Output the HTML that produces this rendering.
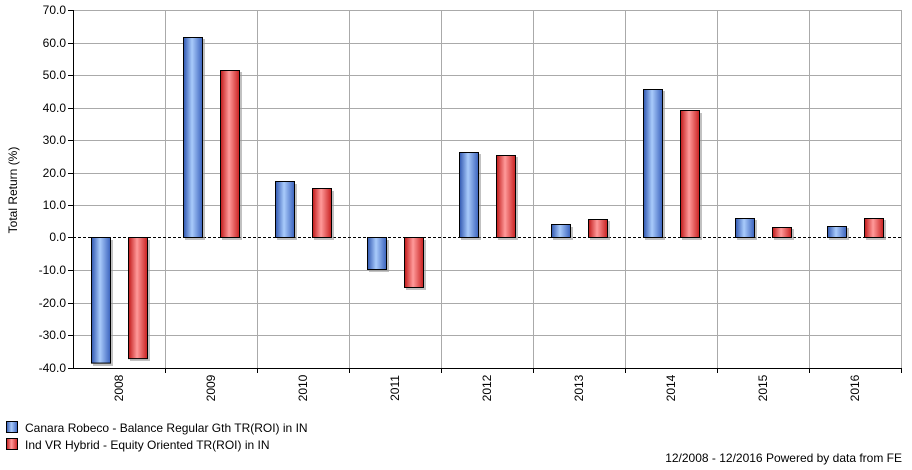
<!DOCTYPE html>
<html><head><meta charset="utf-8"><style>body{margin:0;background:#fff}svg{display:block}text{font-family:"Liberation Sans",Arial,sans-serif;font-size:12px;fill:#000}</style></head><body>
<svg width="912" height="470" viewBox="0 0 912 470" xmlns="http://www.w3.org/2000/svg">
<defs>
<linearGradient id="b" x1="0" x2="1" y1="0" y2="0"><stop offset="0" stop-color="#2f56b0"/><stop offset="0.45" stop-color="#a9cbfb"/><stop offset="1" stop-color="#3a62bd"/></linearGradient>
<linearGradient id="r" x1="0" x2="1" y1="0" y2="0"><stop offset="0" stop-color="#c01818"/><stop offset="0.45" stop-color="#ff9a9a"/><stop offset="1" stop-color="#c82020"/></linearGradient>
</defs>
<g stroke="#aaa" stroke-width="1">
<line x1="73" x2="901" y1="10.5" y2="10.5"/><line x1="73" x2="901" y1="43.5" y2="43.5"/><line x1="73" x2="901" y1="75.5" y2="75.5"/><line x1="73" x2="901" y1="108.5" y2="108.5"/><line x1="73" x2="901" y1="140.5" y2="140.5"/><line x1="73" x2="901" y1="173.5" y2="173.5"/><line x1="73" x2="901" y1="205.5" y2="205.5"/><line x1="73" x2="901" y1="270.5" y2="270.5"/><line x1="73" x2="901" y1="303.5" y2="303.5"/><line x1="73" x2="901" y1="335.5" y2="335.5"/>
<line x1="165.5" x2="165.5" y1="10" y2="368"/><line x1="257.5" x2="257.5" y1="10" y2="368"/><line x1="349.5" x2="349.5" y1="10" y2="368"/><line x1="441.5" x2="441.5" y1="10" y2="368"/><line x1="533.5" x2="533.5" y1="10" y2="368"/><line x1="625.5" x2="625.5" y1="10" y2="368"/><line x1="717.5" x2="717.5" y1="10" y2="368"/><line x1="809.5" x2="809.5" y1="10" y2="368"/><line x1="901.5" x2="901.5" y1="10" y2="368"/>
</g>
<line x1="73" x2="901" y1="237.5" y2="237.5" stroke="#000" stroke-dasharray="3,2"/>
<g stroke="#000" stroke-width="1">
<line x1="73.5" x2="73.5" y1="10" y2="368"/><line x1="73" x2="901" y1="368.5" y2="368.5"/>
</g>
<g stroke="#000">
<line x1="68" x2="73" y1="10.5" y2="10.5"/><line x1="68" x2="73" y1="43.5" y2="43.5"/><line x1="68" x2="73" y1="75.5" y2="75.5"/><line x1="68" x2="73" y1="108.5" y2="108.5"/><line x1="68" x2="73" y1="140.5" y2="140.5"/><line x1="68" x2="73" y1="173.5" y2="173.5"/><line x1="68" x2="73" y1="205.5" y2="205.5"/><line x1="68" x2="73" y1="237.5" y2="237.5"/><line x1="68" x2="73" y1="270.5" y2="270.5"/><line x1="68" x2="73" y1="303.5" y2="303.5"/><line x1="68" x2="73" y1="335.5" y2="335.5"/><line x1="68" x2="73" y1="368.5" y2="368.5"/>
<line x1="165.5" x2="165.5" y1="368" y2="373"/><line x1="257.5" x2="257.5" y1="368" y2="373"/><line x1="349.5" x2="349.5" y1="368" y2="373"/><line x1="441.5" x2="441.5" y1="368" y2="373"/><line x1="533.5" x2="533.5" y1="368" y2="373"/><line x1="625.5" x2="625.5" y1="368" y2="373"/><line x1="717.5" x2="717.5" y1="368" y2="373"/><line x1="809.5" x2="809.5" y1="368" y2="373"/><line x1="901.5" x2="901.5" y1="368" y2="373"/>
</g>
<g text-anchor="end">
<text x="66" y="14">70.0</text><text x="66" y="47">60.0</text><text x="66" y="79">50.0</text><text x="66" y="112">40.0</text><text x="66" y="144">30.0</text><text x="66" y="177">20.0</text><text x="66" y="209">10.0</text><text x="66" y="241">0.0</text><text x="66" y="274">-10.0</text><text x="66" y="307">-20.0</text><text x="66" y="339">-30.0</text><text x="66" y="372">-40.0</text>
</g>
<text transform="translate(17,190) rotate(-90)" text-anchor="middle">Total Return (%)</text>
<g text-anchor="middle">
<text transform="translate(123,388) rotate(-90)">2008</text><text transform="translate(215,388) rotate(-90)">2009</text><text transform="translate(307,388) rotate(-90)">2010</text><text transform="translate(399,388) rotate(-90)">2011</text><text transform="translate(491,388) rotate(-90)">2012</text><text transform="translate(583,388) rotate(-90)">2013</text><text transform="translate(675,388) rotate(-90)">2014</text><text transform="translate(767,388) rotate(-90)">2015</text><text transform="translate(859,388) rotate(-90)">2016</text>
</g>
<g fill="#999" opacity="0.6">
<rect x="93" y="240" width="20" height="126"/><rect x="130" y="240" width="20" height="121"/>
<rect x="185" y="39" width="20" height="201"/><rect x="222" y="72" width="20" height="168"/>
<rect x="277" y="184" width="20" height="56"/><rect x="314" y="191" width="20" height="49"/>
<rect x="369" y="240" width="20" height="32"/><rect x="406" y="240" width="20" height="50"/>
<rect x="461" y="154" width="20" height="86"/><rect x="498" y="157" width="20" height="83"/>
<rect x="553" y="227" width="20" height="13"/><rect x="590" y="221" width="20" height="19"/>
<rect x="645" y="91" width="20" height="149"/><rect x="682" y="113" width="20" height="127"/>
<rect x="737" y="220" width="20" height="20"/><rect x="774" y="229" width="20" height="11"/>
<rect x="829" y="228" width="20" height="12"/><rect x="866" y="220" width="20" height="20"/>
</g>
<g stroke="#000" stroke-width="1">
<rect x="91.5" y="237.5" width="19" height="125.6" fill="url(#b)"/><rect x="128.5" y="237.5" width="19" height="121.1" fill="url(#r)"/>
<rect x="183.5" y="37.5" width="19" height="200" fill="url(#b)"/><rect x="220.5" y="70.5" width="19" height="167" fill="url(#r)"/>
<rect x="275.5" y="181.5" width="19" height="56" fill="url(#b)"/><rect x="312.5" y="188.5" width="19" height="49" fill="url(#r)"/>
<rect x="367.5" y="237.5" width="19" height="32" fill="url(#b)"/><rect x="404.5" y="237.5" width="19" height="50" fill="url(#r)"/>
<rect x="459.5" y="152.5" width="19" height="85" fill="url(#b)"/><rect x="496.5" y="155.5" width="19" height="82" fill="url(#r)"/>
<rect x="551.5" y="224.5" width="19" height="13" fill="url(#b)"/><rect x="588.5" y="219.5" width="19" height="18" fill="url(#r)"/>
<rect x="643.5" y="89.5" width="19" height="148" fill="url(#b)"/><rect x="680.5" y="110.5" width="19" height="127" fill="url(#r)"/>
<rect x="735.5" y="218.5" width="19" height="19" fill="url(#b)"/><rect x="772.5" y="227.5" width="19" height="10" fill="url(#r)"/>
<rect x="827.5" y="226.5" width="19" height="11" fill="url(#b)"/><rect x="864.5" y="218.5" width="19" height="19" fill="url(#r)"/>
</g>
<rect x="6.5" y="421.5" width="11" height="11" fill="url(#b)" stroke="#000"/>
<rect x="6.5" y="438.5" width="11" height="11" fill="url(#r)" stroke="#000"/>
<text x="25" y="432">Canara Robeco - Balance Regular Gth TR(ROI) in IN</text>
<text x="25" y="449">Ind VR Hybrid - Equity Oriented TR(ROI) in IN</text>
<text x="902" y="462" text-anchor="end">12/2008 - 12/2016 Powered by data from FE</text>
</svg>
</body></html>
